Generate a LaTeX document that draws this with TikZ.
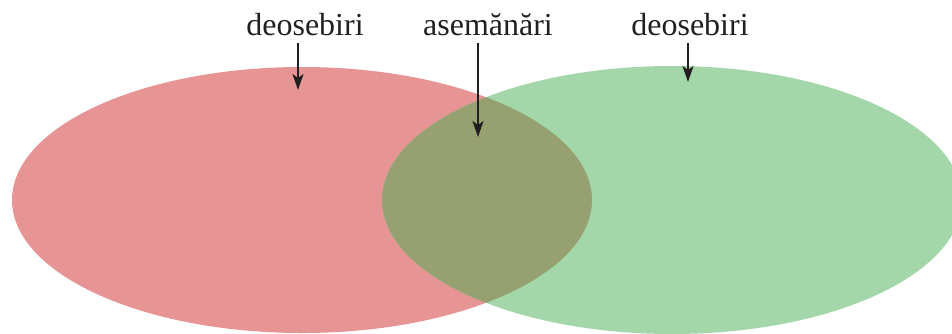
\documentclass[tikz,border=0pt]{standalone}
\usepackage{fontspec}
\setmainfont{Liberation Serif}
\usetikzlibrary{arrows.meta}
\definecolor{vred}{RGB}{231,148,149}
\definecolor{vgreen}{RGB}{163,214,168}
\definecolor{vover}{RGB}{150,160,112}
\definecolor{ink}{RGB}{35,31,32}
\begin{document}
\begin{tikzpicture}[x=1pt,y=-1pt,
  lbl/.style={font=\fontsize{32}{38}\selectfont, text=ink, inner sep=7pt, anchor=base},
  arr/.style={-{Stealth[length=16pt,width=11pt,inset=4pt]}, line width=2pt, draw=ink}]
\useasboundingbox (0,0) rectangle (952,333);
% ellipses
\fill[vred] (302,200) ellipse [x radius=290, y radius=133];
\fill[vgreen] (672,200) ellipse [x radius=290, y radius=134];
\begin{scope}
  \clip (302,200) ellipse [x radius=290, y radius=133];
  \fill[vover] (672,200) ellipse [x radius=290, y radius=134];
\end{scope}
% labels
\node[lbl] (t1) at (305,35) {deosebiri};
\node[lbl] (t2) at (488,35) {asemănări};
\node[lbl] (t3) at (690,35) {deosebiri};
% arrow tips
\coordinate (a1) at (298,90);
\coordinate (a2) at (478,137);
\coordinate (a3) at (688,82);
\draw[arr] (a1 |- t1.south) -- (a1);
\draw[arr] (a2 |- t2.south) -- (a2);
\draw[arr] (a3 |- t3.south) -- (a3);
\end{tikzpicture}
\end{document}
